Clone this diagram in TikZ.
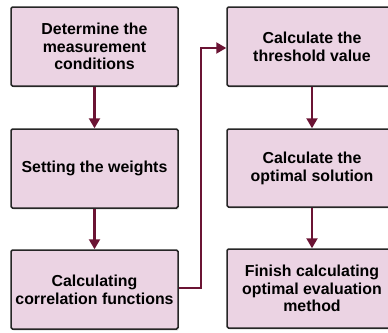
\documentclass[tikz,border=0pt]{standalone}
\usepackage{fontspec}
\setmainfont{Liberation Sans}
\usetikzlibrary{arrows.meta,shadows}
\definecolor{boxfill}{HTML}{EBD3E3}
\definecolor{arrowc}{HTML}{6B1434}
\tikzset{
  stepbox/.style={draw=black!85, line width=1.5pt, fill=boxfill, rounded corners=1.5pt,
    align=center, inner sep=0pt,
    font=\fontsize{15.9}{17.8}\selectfont\bfseries,
    drop shadow={opacity=0.25, shadow xshift=1.2pt, shadow yshift=-1.5pt}},
  flow/.style={draw=arrowc, line width=2.1pt, -{Triangle[length=10pt,width=11pt]}}
}
\begin{document}
\begin{tikzpicture}[x=1pt,y=-1pt]
\useasboundingbox (0,0) rectangle (388,332);
\clip (0,0) rectangle (388,332);
\fill[white] (0,0) rectangle (388,332);
\node[stepbox, minimum width=167pt, minimum height=79pt] (l1) at (94.5,46.5) {Determine the\\measurement\\conditions};
\node[stepbox, minimum width=167pt, minimum height=79pt] (l2) at (94.5,168.5) {Setting the weights};
\node[stepbox, minimum width=167pt, minimum height=79pt] (l3) at (94.5,289.5) {Calculating\\correlation functions};
\node[stepbox, minimum width=170pt, minimum height=79pt] (r1) at (312,46.5) {Calculate the\\threshold value};
\node[stepbox, minimum width=170pt, minimum height=78pt] (r2) at (312,168) {Calculate the\\optimal solution};
\node[stepbox, minimum width=170pt, minimum height=79pt] (r3) at (312,288.5) {Finish calculating\\optimal evaluation\\method};
\coordinate (turn) at (201,288);
\draw[flow] (l1) -- (l2);
\draw[flow] (l2) -- (l3);
\draw[flow] (l3.east |- turn) -- (turn) |- (r1.west |- 0,48);
\draw[flow] (r1) -- (r2);
\draw[flow] (r2) -- (r3);
\end{tikzpicture}
\end{document}
